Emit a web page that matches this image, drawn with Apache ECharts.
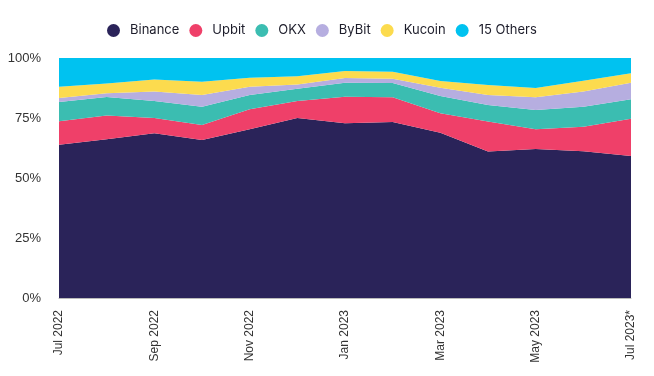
<!DOCTYPE html>
<html>
<head>
<meta charset="utf-8">
<script src="https://cdn.jsdelivr.net/npm/echarts@6/dist/echarts.min.js"></script>
<style>
  html, body { margin: 0; padding: 0; background: #fff; }
  #chart { width: 654px; height: 376px; }
</style>
</head>
<body>
<div id="chart"></div>
<script>
// Monthly exchange market share (%)
const months = [
  "Jul 2022", "Aug 2022", "Sep 2022", "Oct 2022", "Nov 2022", "Dec 2022",
  "Jan 2023", "Feb 2023", "Mar 2023", "Apr 2023", "May 2023", "Jun 2023", "Jul 2023*",
];
const binance = [63.9, 66.1, 68.6, 65.8, 70.3, 75.0, 72.8, 73.3, 68.9, 61.0, 62.1, 61.1, 59.2];
const upbit = [9.7, 9.9, 6.4, 6.3, 8.3, 7.1, 11.1, 10.3, 8.1, 12.5, 8.2, 10.3, 15.5];
const okx = [8.1, 7.75, 7.1, 7.6, 6.0, 5.1, 5.8, 6.0, 7.2, 6.9, 8.0, 8.3, 8.1];
const bybit = [1.6, 1.55, 3.9, 4.9, 3.4, 1.8, 2.0, 1.8, 3.4, 4.2, 5.3, 6.3, 6.9];
const kucoin = [4.7, 4.1, 5.0, 5.5, 3.8, 3.4, 2.9, 2.9, 2.8, 4.15, 3.9, 4.5, 3.9];
const others = [12.0, 10.6, 9.0, 9.9, 8.2, 7.6, 5.4, 5.7, 9.6, 11.25, 12.5, 9.5, 6.4];

const seriesDefs = [
  { name: "Binance", data: binance, color: "#2a2359" },
  { name: "Upbit", data: upbit, color: "#ef4069" },
  { name: "OKX", data: okx, color: "#3bbdb1" },
  { name: "ByBit", data: bybit, color: "#b6aee0" },
  { name: "Kucoin", data: kucoin, color: "#fcdb4e" },
  { name: "15 Others", data: others, color: "#00c2f0" },
];

const chart = echarts.init(document.getElementById("chart"));

const option = {
  animation: false,
  legend: {
    top: 19,
    left: 102,
    icon: "circle",
    itemWidth: 13,
    itemHeight: 13,
    itemGap: 10,
    textStyle: {
      fontFamily: "Inter",
      fontSize: 13,
      color: "#1d1d2b",
      padding: [0, 0, 0, 5],
    },
    data: seriesDefs.map((s) => s.name),
  },
  grid: { left: 59, right: 23, top: 58, bottom: 78 },
  xAxis: {
    type: "category",
    data: months,
    boundaryGap: false,
    axisLine: { lineStyle: { color: "#bbbbbb" } },
    axisTick: { show: false },
    axisLabel: {
      rotate: 90,
      interval: 1,
      margin: 12,
      fontFamily: "Liberation Sans",
      fontSize: 12,
      color: "#333",
    },
  },
  yAxis: {
    type: "value",
    min: 0,
    max: 100,
    interval: 25,
    axisLine: { show: false },
    axisTick: { show: false },
    splitLine: { lineStyle: { color: "#eeeeee" } },
    axisLabel: {
      formatter: "{value}%",
      margin: 18,
      fontFamily: "Liberation Sans",
      fontSize: 13,
      color: "#333",
    },
  },
  series: seriesDefs.map((s) => ({
    name: s.name,
    type: "line",
    stack: "share",
    data: s.data,
    symbol: "none",
    lineStyle: { width: 0 },
    areaStyle: { color: s.color, opacity: 1 },
    itemStyle: { color: s.color },
  })),
};

chart.setOption(option);
</script>
</body>
</html>
